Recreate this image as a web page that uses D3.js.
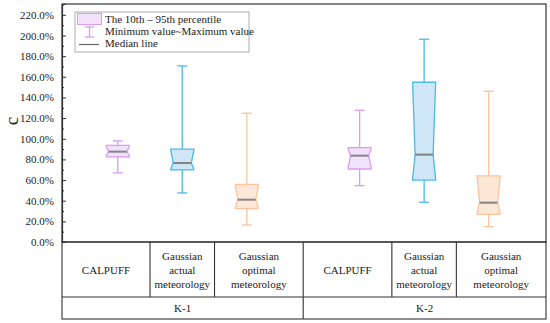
<!DOCTYPE html>
<html lang="en">
<head>
<meta charset="utf-8">
<title>Box chart</title>
<script src="https://cdn.jsdelivr.net/npm/d3@7"></script>
<style>
  body { margin: 0; background: #fff; }
  text { font-family: "Liberation Serif", "Times New Roman", serif; font-size: 11px; fill: #222; }
</style>
</head>
<body>
<script>
// data (percent)
var groups = ["K-1", "K-2"];
var methods = [["CALPUFF"], ["Gaussian", "actual", "meteorology"], ["Gaussian", "optimal", "meteorology"]];
var positions = [1, 2, 3, 4.75, 5.75, 6.75];
var minVals = [67, 47.5, 16.5, 54.6, 38.5, 14.8];
var p10Vals = [82.4, 69.8, 32.3, 70.7, 60, 26.8];
var medVals = [87.5, 76.5, 41, 83.6, 84.6, 38.1];
var p95Vals = [93.5, 90, 55.9, 91.4, 154.7, 64];
var maxVals = [97.9, 170.5, 124.7, 127.6, 196.4, 146];
var yTicks = [0, 20, 40, 60, 80, 100, 120, 140, 160, 180, 200, 220];
var legendLabels = ["The 10th \u2013 95th percentile", "Minimum value~Maximum value", "Median line"];

var fills = ["#f1e1fb", "#cfe6f7", "#fde7d6"];
var strokes = ["#d99cf2", "#4cb9e8", "#fbc49e"];

var w = 550, h = 323;
var plotLeft = 62, plotRight = 546, plotTop = 4, plotBottom = 242;
var tableRow = 297, tableBottom = 319;

var svg = d3.select("body").append("svg").attr("width", w).attr("height", h);

var x = d3.scaleLinear().domain([0.135, 7.64]).range([plotLeft, plotRight]);
var y = d3.scaleLinear().domain([0, 230.5]).range([plotBottom, plotTop]);

// frame
svg.append("rect")
  .attr("x", plotLeft).attr("y", plotTop)
  .attr("width", plotRight - plotLeft).attr("height", plotBottom - plotTop)
  .attr("fill", "none").attr("stroke", "#333").attr("stroke-width", 1.2);

// y axis
var yAxis = svg.append("g")
  .attr("transform", "translate(" + plotLeft + ",0)")
  .call(d3.axisLeft(y).tickValues(yTicks).tickSize(-4).tickPadding(8)
    .tickFormat(function(d) { return d.toFixed(1) + "%"; }));
yAxis.select(".domain").attr("stroke", "#333").attr("stroke-width", 1.2);
yAxis.selectAll(".tick line").attr("stroke", "#333");
yAxis.selectAll(".tick text").style("font-size", "11px").style("font-family", "'Liberation Serif', serif").attr("fill", "#222");

var minor = svg.append("g")
  .attr("transform", "translate(" + plotLeft + ",0)")
  .call(d3.axisLeft(y).tickValues(yTicks.map(function(d) { return d + 10; })).tickSize(-2).tickFormat(""));
minor.select(".domain").remove();
minor.selectAll(".tick line").attr("stroke", "#333");

svg.append("text")
  .attr("transform", "translate(18,121) rotate(-90)")
  .attr("text-anchor", "middle")
  .style("font-size", "19px")
  .text("c");

// boxes
var boxW = 23, capW = 10, notch = 2.5;

positions.forEach(function(p, i) {
  var cx = x(p), c = i % 3;
  var g = svg.append("g");
  // whiskers
  g.append("line").attr("x1", cx).attr("x2", cx)
    .attr("y1", y(maxVals[i])).attr("y2", y(p95Vals[i]))
    .attr("stroke", strokes[c]).attr("stroke-width", 1.3);
  g.append("line").attr("x1", cx).attr("x2", cx)
    .attr("y1", y(p10Vals[i])).attr("y2", y(minVals[i]))
    .attr("stroke", strokes[c]).attr("stroke-width", 1.3);
  [maxVals[i], minVals[i]].forEach(function(v) {
    g.append("line").attr("x1", cx - capW / 2).attr("x2", cx + capW / 2)
      .attr("y1", y(v)).attr("y2", y(v))
      .attr("stroke", strokes[c]).attr("stroke-width", 1.3);
  });
  // notched box
  var l = cx - boxW / 2, r = cx + boxW / 2;
  var t = y(p95Vals[i]), b = y(p10Vals[i]), m = y(medVals[i]);
  var path = d3.path();
  path.moveTo(l, t);
  path.lineTo(r, t);
  path.lineTo(r, t + 1.5);
  path.lineTo(r - notch, m);
  path.lineTo(r, b - 1.5);
  path.lineTo(r, b);
  path.lineTo(l, b);
  path.lineTo(l, b - 1.5);
  path.lineTo(l + notch, m);
  path.lineTo(l, t + 1.5);
  path.closePath();
  g.append("path").attr("d", path.toString())
    .attr("fill", fills[c]).attr("stroke", strokes[c]).attr("stroke-width", 1.3);
  g.append("line").attr("x1", l + notch).attr("x2", r - notch)
    .attr("y1", m).attr("y2", m)
    .attr("stroke", "#858585").attr("stroke-width", 2);
});

// legend
var lg = svg.append("g");
lg.append("rect").attr("x", 75).attr("y", 12).attr("width", 174).attr("height", 40)
  .attr("fill", "#fff").attr("stroke", "#999").attr("stroke-width", 0.8);
lg.append("rect").attr("x", 77.5).attr("y", 13.5).attr("width", 24).attr("height", 11)
  .attr("fill", fills[0]).attr("stroke", strokes[0]).attr("stroke-width", 1);
lg.append("line").attr("x1", 89.5).attr("x2", 89.5).attr("y1", 27).attr("y2", 37)
  .attr("stroke", strokes[0]).attr("stroke-width", 1.3);
[27, 37].forEach(function(v) {
  lg.append("line").attr("x1", 85).attr("x2", 94).attr("y1", v).attr("y2", v)
    .attr("stroke", strokes[0]).attr("stroke-width", 1.3);
});
lg.append("line").attr("x1", 79).attr("x2", 99).attr("y1", 44.5).attr("y2", 44.5)
  .attr("stroke", "#666").attr("stroke-width", 1.2);
lg.selectAll("text.lab").data(legendLabels).enter().append("text")
  .attr("class", "lab")
  .attr("x", 105)
  .attr("y", function(d, i) { return 23 + i * 12; })
  .text(function(d) { return d; });

// table under the axis
var borders = [plotLeft];
for (var i = 0; i < positions.length - 1; i++) borders.push(x((positions[i] + positions[i + 1]) / 2));
borders.push(plotRight);

var tb = svg.append("g").attr("stroke", "#333").attr("stroke-width", 1.1);
tb.append("rect").attr("x", plotLeft).attr("y", plotBottom)
  .attr("width", plotRight - plotLeft).attr("height", tableBottom - plotBottom)
  .attr("fill", "none");
tb.append("line").attr("x1", plotLeft).attr("x2", plotRight).attr("y1", tableRow).attr("y2", tableRow);
borders.slice(1, -1).forEach(function(bx, i) {
  var full = (i === 2);
  tb.append("line").attr("x1", bx).attr("x2", bx)
    .attr("y1", plotBottom).attr("y2", full ? tableBottom : tableRow);
});

positions.forEach(function(p, i) {
  var lines = methods[i % 3];
  var cx = (borders[i] + borders[i + 1]) / 2;
  var mid = (plotBottom + tableRow) / 2;
  svg.append("g").selectAll("text").data(lines).enter().append("text")
    .attr("x", cx)
    .attr("y", function(d, k) { return mid + 4 + (k - (lines.length - 1) / 2) * 14; })
    .attr("text-anchor", "middle")
    .text(function(d) { return d; });
});

groups.forEach(function(gname, gi) {
  svg.append("text")
    .attr("x", (borders[gi * 3] + borders[gi * 3 + 3]) / 2)
    .attr("y", (tableRow + tableBottom) / 2 + 4)
    .attr("text-anchor", "middle")
    .text(gname);
});
</script>
</body>
</html>
